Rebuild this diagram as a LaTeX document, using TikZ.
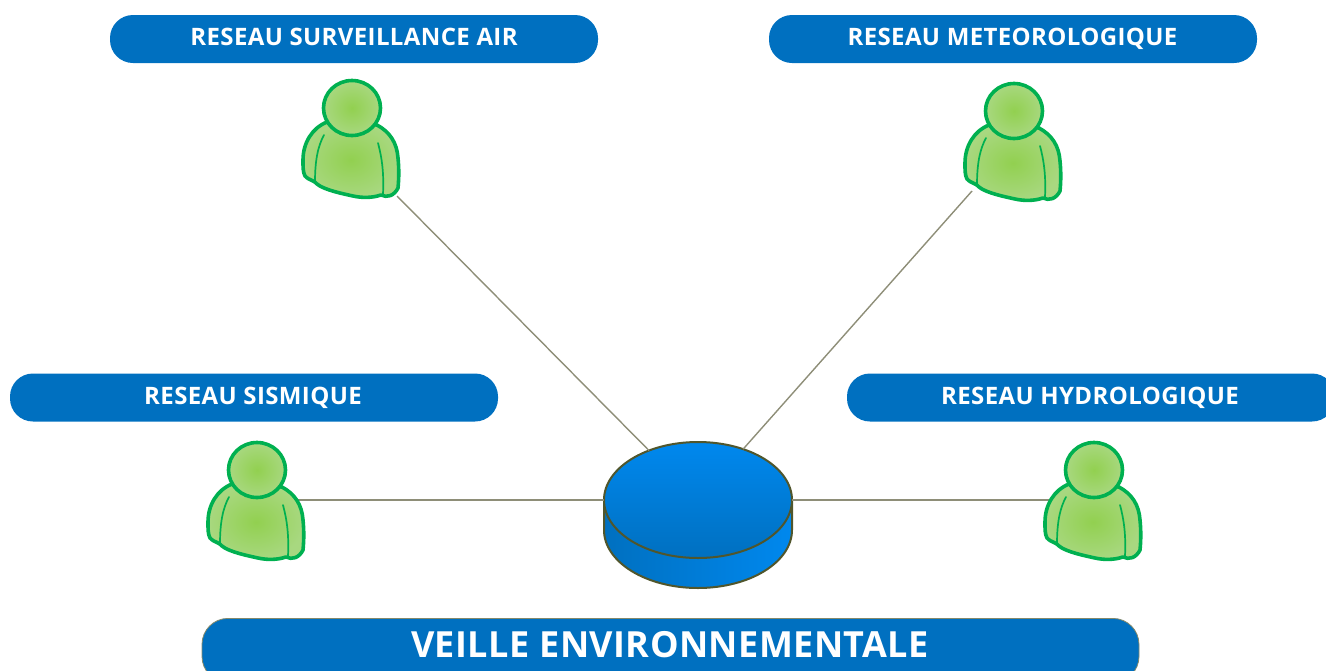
\documentclass[tikz,border=0pt]{standalone}
\usepackage{fontspec}
\setmainfont{Open Sans}
\newfontfamily\labelfont[LetterSpace=1.6]{Open Sans}
\newfontfamily\biglabelfont[LetterSpace=1.2]{Open Sans}
\usetikzlibrary{shapes.geometric}
\definecolor{pillblue}{HTML}{0070C0}
\definecolor{disclight}{HTML}{0088EE}
\definecolor{discdark}{HTML}{0070C0}
\definecolor{olive}{HTML}{50562C}
\definecolor{wire}{HTML}{8E8E78}
\definecolor{pgreen}{HTML}{00B050}
\definecolor{pin}{HTML}{92D050}
\definecolor{pout}{HTML}{A8D880}
\tikzset{
  pill/.style={fill=pillblue,rounded corners=23pt,minimum height=48pt,minimum width=488pt,inner sep=0pt},
  pilltext/.style={text=white,font=\labelfont\fontsize{24}{26}\selectfont\bfseries,inner sep=0pt,anchor=base},
  bigpill/.style={fill=pillblue,draw=olive!70,line width=.8pt,rounded corners=26pt,minimum width=937pt,minimum height=64pt,inner sep=0pt,anchor=north},
  bigtext/.style={text=white,font=\biglabelfont\fontsize{36}{38}\selectfont\bfseries,inner sep=0pt,anchor=base},
  personbox/.style={minimum width=97pt,minimum height=118pt,inner sep=0pt,outer sep=0pt},
  wireline/.style={draw=wire,line width=1.4pt},
  pshape/.style={draw=pgreen,line width=3.6pt,inner color=pin,outer color=pout,line join=round},
  pfold/.style={draw=pgreen,line width=1.7pt,line cap=round},
  disctop/.style={ellipse,draw=olive,line width=2pt,top color=disclight,bottom color=discdark,minimum width=188pt,minimum height=116pt,inner sep=0pt,outer sep=0pt}
}
\newcommand{\persondraw}[2]{%
\begin{scope}[shift={(#1,#2)}]
  \path[pshape] (-25,14) .. controls (-40,20) and (-49,35) .. (-49,52)
    .. controls (-49,60) and (-49,64) .. (-47,68)
    .. controls (-44,72) and (-38,72) .. (-35,76)
    .. controls (-28,82) and (-8,86) .. (1,88)
    .. controls (10,90) and (20,90) .. (29,87)
    .. controls (35,90) and (42,88) .. (46,80)
    .. controls (47,70) and (47,60) .. (46,50)
    .. controls (45,35) and (38,24) .. (25,17) -- cycle;
  \draw[pfold] (-28,27) .. controls (-34,38) and (-37,52) .. (-37,74);
  \draw[pfold] (26,35) .. controls (30,50) and (32,65) .. (31,86);
  \path[pshape] (0,0) ellipse (28.5 and 27.5);
\end{scope}}
\begin{document}
\begin{tikzpicture}[x=1pt,y=-1pt]
\useasboundingbox (0,0) rectangle (1326,670);
\clip (0,0) rectangle (1326,670);
\node[pill] (n1) at (354,39) {};
\node[pill] (n2) at (1013,39) {};
\node[pill] (n3) at (254,397.5) {};
\node[pill] (n4) at (1091,397.5) {};
\node[pilltext] (t1) at (354,45.5) {RESEAU SURVEILLANCE AIR};
\node[pilltext] (t2) at (1012.5,45.5) {RESEAU METEOROLOGIQUE};
\node[pilltext] (t3) at (253,404) {RESEAU SISMIQUE};
\node[pilltext] (t4) at (1090,404) {RESEAU HYDROLOGIQUE};
\node[bigpill] (n5) at (670.5,618) {};
\node[bigtext] (t5) at (670,657) {VEILLE ENVIRONNEMENTALE};
% person placeholders
\node[personbox] (p1) at (350.5,138) {};
\node[personbox] (p2) at (1012.5,141) {};
\node[personbox] (p3) at (255.5,500) {};
\node[personbox] (p4) at (1092.5,500) {};
% disc
\path[draw=olive,line width=2pt,left color=discdark,right color=disclight] (604,500) -- (604,530) arc (180:0:94 and 58) -- (792,500) -- cycle;
\node[disctop] (disc) at (698,500) {};
% connectors
\coordinate (a1) at ([xshift=-2pt,yshift=1pt]p1.south east);
\coordinate (a2) at ([xshift=8pt,yshift=9pt]p2.south west);
\coordinate (a3) at ([xshift=-8pt]p3.east);
\coordinate (a4) at ([xshift=8pt]p4.west);
\draw[wireline] (a1) -- (disc);
\draw[wireline] (a2) -- (disc);
\draw[wireline] (a3) -- (disc);
\draw[wireline] (a4) -- (disc);
\persondraw{352}{108}
\persondraw{1014}{111}
\persondraw{257}{470}
\persondraw{1094}{470}
\end{tikzpicture}
\end{document}
